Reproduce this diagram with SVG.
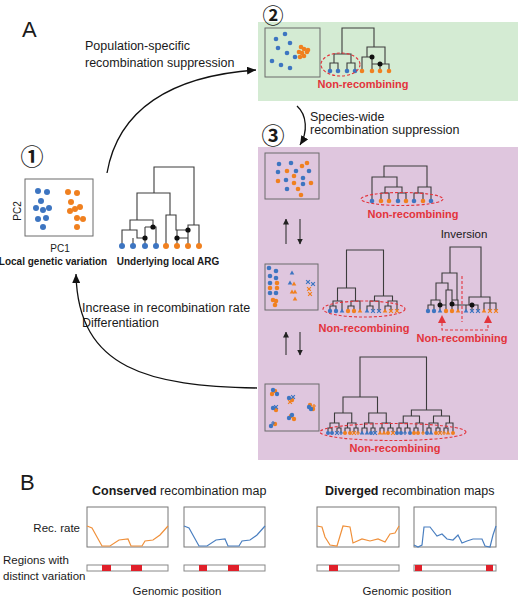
<svg xmlns="http://www.w3.org/2000/svg" width="520" height="600" viewBox="0 0 520 600">
<defs>
<style>
text{font-family:"Liberation Sans",Arial,sans-serif;fill:#1a1a1a}
.lab{font-size:12.5px}
.sm{font-size:11.5px}
.bl{font-weight:bold}
.nr{font-size:11px;font-weight:bold;fill:#e3343c;text-anchor:middle}
.big{font-size:22px}
.circ{font-family:"Noto Sans CJK JP","DejaVu Sans",sans-serif;font-size:23px;font-weight:bold;text-anchor:middle;dominant-baseline:central}
.box{fill:none;stroke:#6b6b6b;stroke-width:1}
.tr{fill:none;stroke:#3c3c3c;stroke-width:1.1}
.b{fill:#3d75c1}
.o{fill:#f0801f}
.k{fill:#111}
.ell{fill:none;stroke:#e3343c;stroke-width:1.1;stroke-dasharray:3 2}
.conn{fill:none;stroke:#111;stroke-width:1.3}
.sa{fill:none;stroke:#333;stroke-width:1.1}
.xb{stroke:#3d75c1;stroke-width:1.2;fill:none}
.xo{stroke:#f0801f;stroke-width:1.2;fill:none}
.plot{fill:none;stroke:#777;stroke-width:1}
.bar{fill:#fff;stroke:#888;stroke-width:1}
.red{fill:#e0202a}
.co{fill:none;stroke:#f0903a;stroke-width:1.2}
.cb{fill:none;stroke:#4a7fc0;stroke-width:1.2}
</style>
<marker id="ah" markerWidth="10" markerHeight="8" refX="9" refY="4" orient="auto" markerUnits="userSpaceOnUse"><path d="M0,0L9,4L0,8Z" fill="#111"/></marker>
<marker id="as" markerWidth="6" markerHeight="6" refX="5.5" refY="3" orient="auto" markerUnits="userSpaceOnUse"><path d="M0,0L6,3L0,6Z" fill="#222"/></marker>
<path id="tri" d="M0,-2.5L2.3,1.6H-2.3Z"/>
<path id="xx" d="M-1.9,-1.9L1.9,1.9M-1.9,1.9L1.9,-1.9"/>
<path id="pl" d="M-2,0H2M0,-2V2"/>
</defs>
<rect width="520" height="600" fill="#fff"/>

<text class="big" x="22" y="37">A</text>

<!-- Panel 1 -->
<g id="stage1">
<text class="circ" x="32" y="155">①</text>
<rect class="box" x="25" y="179" width="68" height="57"/>
<g class="b">
<circle cx="38" cy="191" r="3"/><circle cx="47" cy="192" r="3"/><circle cx="41" cy="201" r="3"/><circle cx="36" cy="208" r="3"/><circle cx="43" cy="210" r="3"/><circle cx="49" cy="208" r="3"/><circle cx="38" cy="219" r="3"/><circle cx="46" cy="218" r="3"/><circle cx="43" cy="227" r="3"/>
</g>
<g class="o">
<circle cx="68" cy="192" r="3"/><circle cx="77" cy="193" r="3"/><circle cx="71" cy="202" r="3"/><circle cx="70" cy="211" r="3"/><circle cx="75" cy="209" r="3"/><circle cx="80" cy="207" r="3"/><circle cx="77" cy="218" r="3"/><circle cx="83" cy="219" r="3"/><circle cx="77" cy="227" r="3"/>
</g>
<text x="17" y="211" font-size="10" text-anchor="middle" dominant-baseline="central" transform="rotate(-90 17 211)">PC2</text>
<text x="60" y="252" font-size="10" text-anchor="middle">PC1</text>
<text class="bl" x="53" y="265" font-size="10" text-anchor="middle">Local genetic variation</text>
<path class="tr" d="M154,193V167H194V225M137,220V193H170V215M130,230V220H153V227M122,246V230H137V238H145M133,246V238M145,227V246M145,227H156V246M166,246V215H176V230H188M177,230V246M177,238H188M188,246V225H199V246"/>
<g class="k"><circle cx="145" cy="238" r="2.6"/><circle cx="153" cy="227" r="2.6"/><circle cx="177" cy="238" r="2.6"/><circle cx="188" cy="230" r="2.6"/></g>
<g class="b"><circle cx="122" cy="246" r="3"/><circle cx="133" cy="246" r="3"/><circle cx="145" cy="246" r="3"/><circle cx="156" cy="246" r="3"/></g>
<g class="o"><circle cx="166" cy="246" r="3"/><circle cx="177" cy="246" r="3"/><circle cx="188" cy="246" r="3"/><circle cx="199" cy="246" r="3"/></g>
<text class="bl" x="168" y="265" font-size="10" text-anchor="middle">Underlying local ARG</text>
</g>

<!-- Panel 2 -->
<g id="stage2">
<rect x="258" y="22" width="260" height="79" fill="#d4ebd3"/>
<text class="circ" x="273" y="14" style="font-size:21px">②</text>
<rect class="box" x="265" y="28" width="55" height="49"/>
<g class="b">
<circle cx="285" cy="34" r="2.3"/><circle cx="276" cy="39" r="2.3"/><circle cx="290" cy="43" r="2.3"/><circle cx="278" cy="48" r="2.3"/><circle cx="287" cy="53" r="2.3"/><circle cx="295" cy="57" r="2.3"/><circle cx="272" cy="61" r="2.3"/><circle cx="281" cy="65" r="2.3"/><circle cx="290" cy="68" r="2.3"/>
</g>
<g class="o">
<circle cx="301" cy="47" r="2.3"/><circle cx="304" cy="49" r="2.3"/><circle cx="307" cy="52" r="2.3"/><circle cx="302" cy="53" r="2.3"/><circle cx="299" cy="52" r="2.3"/><circle cx="304" cy="56" r="2.3"/><circle cx="300" cy="57" r="2.3"/><circle cx="308" cy="50" r="2.3"/>
</g>
<path class="tr" d="M342,54V28H374V47M334,63V54H351V63M330,71V63H338V71M347,71V63H355V71M367,57V47H385V64M362,71V57H372V71M380,71V64H389V71M372,64H380"/>
<g class="k"><circle cx="372" cy="57" r="2.5"/><circle cx="380" cy="64" r="2.5"/></g>
<g class="b"><circle cx="330" cy="71" r="2.3"/><circle cx="338" cy="71" r="2.3"/><circle cx="347" cy="71" r="2.3"/><circle cx="355" cy="71" r="2.3"/></g>
<g class="o"><circle cx="362" cy="71" r="2.3"/><circle cx="372" cy="71" r="2.3"/><circle cx="380" cy="71" r="2.3"/><circle cx="389" cy="71" r="2.3"/></g>
<ellipse class="ell" cx="340.5" cy="64.5" rx="19.5" ry="11.5"/>
<text class="nr" x="363" y="88">Non-recombining</text>
</g>

<!-- Panel 3 -->
<g id="stage3">
<rect x="258" y="147" width="260" height="313" fill="#dfc6de"/>
<text class="circ" x="273" y="134">③</text>
</g>

<g id="stage3-mixed">
<rect class="box" x="265" y="153" width="54" height="46"/>
<g class="b"><circle cx="279" cy="164" r="2.3"/><circle cx="291" cy="163" r="2.3"/><circle cx="278" cy="172" r="2.3"/><circle cx="296" cy="171" r="2.3"/><circle cx="309" cy="171" r="2.3"/><circle cx="286" cy="180" r="2.3"/><circle cx="303" cy="178" r="2.3"/><circle cx="303" cy="184" r="2.3"/><circle cx="287" cy="189" r="2.3"/></g>
<g class="o"><circle cx="302" cy="166" r="2.3"/><circle cx="307" cy="163" r="2.3"/><circle cx="287" cy="171" r="2.3"/><circle cx="278" cy="181" r="2.3"/><circle cx="294" cy="176" r="2.3"/><circle cx="294" cy="183" r="2.3"/><circle cx="311" cy="183" r="2.3"/><circle cx="298" cy="189" r="2.3"/><circle cx="301" cy="195" r="2.3"/></g>
<path class="tr" d="M384,177V166H427V187M372,201V177H397V187M385,193V187H402V193M381,201V193H389V201M398,201V193H406V201M418,193V187H431V201M414,201V193H423V201"/>
<g class="b"><circle cx="372" cy="201" r="2.3"/><circle cx="398" cy="201" r="2.3"/><circle cx="414" cy="201" r="2.3"/><circle cx="431" cy="201" r="2.3"/></g>
<g class="o"><circle cx="381" cy="201" r="2.3"/><circle cx="389" cy="201" r="2.3"/><circle cx="406" cy="201" r="2.3"/><circle cx="423" cy="201" r="2.3"/></g>
<ellipse class="ell" cx="402" cy="199" rx="41" ry="6.5"/>
<text class="nr" x="413" y="218">Non-recombining</text>
</g>

<g id="stage3-structured">
<rect class="box" x="265" y="264" width="53" height="46"/>
<g class="b"><circle cx="269" cy="268" r="2.3"/><circle cx="276" cy="271" r="2.3"/><circle cx="270" cy="276" r="2.3"/><circle cx="276" cy="278" r="2.3"/><circle cx="270" cy="283" r="2.3"/><circle cx="276" cy="293" r="2.3"/><circle cx="270" cy="293" r="2.3"/></g>
<g class="o"><circle cx="277" cy="283" r="2.3"/><circle cx="270" cy="288" r="2.3"/><circle cx="277" cy="288" r="2.3"/><circle cx="273" cy="300" r="2.3"/><circle cx="275" cy="305" r="2.3"/><circle cx="276" cy="301" r="2.3"/></g>
<use href="#tri" x="292" y="273" class="b"/><use href="#tri" x="290" y="283" class="b"/><use href="#tri" x="294" y="284" class="o"/><use href="#tri" x="292" y="292" class="o"/><use href="#tri" x="295" y="292" class="o"/><use href="#tri" x="295" y="299" class="o"/>
<use href="#xx" x="308" y="282" class="xb"/><use href="#xx" x="313" y="284" class="xb"/><use href="#xx" x="309" y="289" class="xo"/><use href="#xx" x="310" y="294" class="xo"/>
<path class="tr" d="M346.5,288V250H383.5V296M337.5,301V288H355.5V301M333,306V301H342V311M330,311V306H336V311M351,306V301H360V311M348,311V306H354V311M374.5,301V296H392.5V301M370,306V301H379V311M367,311V306H373V311M388,306V301H397V311M385,311V306H391V311"/>
<g class="b"><circle cx="330" cy="311" r="2.2"/><circle cx="336" cy="311" r="2.2"/></g>
<use href="#tri" x="342" y="311" class="b"/>
<g class="o"><circle cx="348" cy="311" r="2.2"/><circle cx="354" cy="311" r="2.2"/></g>
<use href="#tri" x="360" y="311" class="o"/><use href="#tri" x="367" y="311" class="b"/>
<use href="#xx" x="373" y="311" class="xb"/><use href="#xx" x="379" y="311" class="xb"/>
<use href="#tri" x="385" y="311" class="o"/>
<use href="#xx" x="391" y="311" class="xo"/><use href="#xx" x="397" y="311" class="xo"/>
<ellipse class="ell" cx="364" cy="309" rx="41" ry="8"/>
<text class="nr" x="364" y="332">Non-recombining</text>
</g>

<g id="stage3-inversion">
<text x="464" y="238" font-size="11.5" text-anchor="middle">Inversion</text>
<path class="tr" d="M450,273V247H481V297M442,283V273H457V300M436,300V283H448V290M431,305V300H440V311M428,311V305H434V311M446,311V290H452V311M452,300H458V311M469,305V297H490V303M466,311V305H478V311M472,305V311M484,311V303H496V311M490,303V311M440,305H446M452,305H466"/>
<g class="k"><circle cx="440" cy="305" r="2.5"/><circle cx="452" cy="304" r="2.5"/><circle cx="472" cy="305" r="2.5"/></g>
<g class="b"><circle cx="428" cy="311" r="2.2"/><circle cx="434" cy="311" r="2.2"/></g>
<use href="#tri" x="440" y="311" class="b"/>
<g class="o"><circle cx="446" cy="311" r="2.2"/><circle cx="452" cy="311" r="2.2"/></g>
<use href="#tri" x="458" y="311" class="o"/><use href="#tri" x="466" y="311" class="b"/>
<use href="#xx" x="472" y="311" class="xb"/><use href="#xx" x="478" y="311" class="xb"/>
<use href="#tri" x="484" y="311" class="o"/>
<use href="#xx" x="490" y="311" class="xo"/><use href="#xx" x="496" y="311" class="xo"/>
<path d="M462,276V322" fill="none" stroke="#e3343c" stroke-width="1.1" stroke-dasharray="3 2"/>
<path d="M442,323V330H488V323" fill="none" stroke="#e3343c" stroke-width="1.1" stroke-dasharray="3 2"/>
<path d="M442,315L438,323H446ZM488,315L484,323H492Z" fill="#e3343c"/>
<text class="nr" x="462" y="342">Non-recombining</text>
</g>

<g id="stage3-differentiated">
<rect class="box" x="265" y="384" width="54" height="47"/>
<g class="o"><circle cx="275" cy="391" r="2.2"/><circle cx="272" cy="394" r="2.2"/><circle cx="292" cy="400" r="2.2"/><circle cx="310" cy="405" r="2.2"/><circle cx="313" cy="409" r="2.2"/><circle cx="276" cy="410" r="2.2"/><circle cx="291" cy="416" r="2.2"/><circle cx="294" cy="419" r="2.2"/><circle cx="275" cy="424" r="2.2"/></g>
<g class="b"><circle cx="273" cy="390" r="2.2"/><circle cx="277" cy="394" r="2.2"/><circle cx="289" cy="398" r="2.2"/><circle cx="311" cy="409" r="2.2"/><circle cx="309" cy="407" r="2.2"/><circle cx="273" cy="408" r="2.2"/><circle cx="289" cy="418" r="2.2"/><circle cx="292" cy="415" r="2.2"/><circle cx="271" cy="426" r="2.2"/></g>
<use href="#xx" x="293" y="397" class="xb"/><use href="#xx" x="276" y="407" class="xb"/><use href="#pl" x="273" y="423" class="xb"/><use href="#xx" x="290" y="402" class="xo"/><use href="#pl" x="314" y="406" class="xo"/>
<path class="tr" d="M360,397V357H426.5V410M343,413V397H377.5V413M334.5,423V413H351.75V423M368.75,423V413H386.25V423M330,428V423H339V428M328,433V428H332V433M337,433V428H341V433M347.5,428V423H356V428M345,433V428H350V433M354,433V428H358V433M364.5,428V423H373V428M362,433V428H367V433M371,433V428H375V433M382,428V423H390.5V428M380,433V428H384V433M388,433V428H393V433M411.4,416V410H441.5V416M403.25,423V416H419.5V423M399,428V423H407.5V428M397,433V428H401V433M405,433V428H410V433M414,433V428H418V433M416,428V423H423V433M433.5,423V416H449.5V423M429,428V423H438V428M427,433V428H431V433M436,433V428H440V433M444,433V428H448V433M446,428V423H453V433"/>
<g class="b"><circle cx="328" cy="433" r="2"/><circle cx="332" cy="433" r="2"/><circle cx="371" cy="433" r="2"/><circle cx="397" cy="433" r="2"/><circle cx="401" cy="433" r="2"/><circle cx="410" cy="433" r="2"/><circle cx="427" cy="433" r="2"/></g>
<g class="o"><circle cx="345" cy="433" r="2"/><circle cx="350" cy="433" r="2"/><circle cx="388" cy="433" r="2"/><circle cx="414" cy="433" r="2"/><circle cx="418" cy="433" r="2"/><circle cx="436" cy="433" r="2"/><circle cx="453" cy="433" r="2"/></g>
<use href="#xx" x="337" y="433" class="xb"/><use href="#pl" x="341" y="433" class="xb"/>
<use href="#xx" x="354" y="433" class="xo"/><use href="#pl" x="358" y="433" class="xo"/>
<use href="#tri" x="362" y="433" class="b"/><use href="#tri" x="367" y="433" class="b"/><use href="#xx" x="375" y="433" class="xb"/>
<use href="#tri" x="380" y="433" class="o"/><use href="#tri" x="384" y="433" class="o"/><use href="#xx" x="393" y="433" class="xo"/>
<use href="#pl" x="405" y="433" class="xb"/><use href="#pl" x="423" y="433" class="xo"/>
<use href="#tri" x="431" y="433" class="b"/><use href="#xx" x="440" y="433" class="xo"/><use href="#pl" x="444" y="433" class="xo"/><use href="#tri" x="448" y="433" class="o"/>
<ellipse class="ell" cx="393" cy="432" rx="73" ry="8.5"/>
<text class="nr" x="395" y="452">Non-recombining</text>
</g>

<!-- Connectors -->
<g id="connectors">
<path class="conn" d="M107,173C118,110 170,76 256,70" marker-end="url(#ah)"/>
<path class="conn" d="M297,106C307,115 308,132 300,145" marker-end="url(#ah)"/>
<path class="conn" d="M257,388C150,386 78,370 76,274" marker-end="url(#ah)"/>
<path class="sa" d="M286,244V219" marker-end="url(#as)"/>
<path class="sa" d="M300,219V244" marker-end="url(#as)"/>
<path class="sa" d="M286,355V332" marker-end="url(#as)"/>
<path class="sa" d="M300,332V355" marker-end="url(#as)"/>
</g>
<g id="connector-labels">
<text class="lab" x="85" y="50">Population-specific</text>
<text class="lab" x="85" y="67">recombination suppression</text>
<text class="lab" x="310" y="121">Species-wide</text>
<text class="lab" x="310" y="134">recombination suppression</text>
<text class="lab" x="82" y="312">Increase in recombination rate</text>
<text class="lab" x="82" y="327">Differentiation</text>
</g>

<!-- Panel B -->
<g id="panelB">
<text class="big" x="20" y="490">B</text>
<text x="92" y="495" font-size="12.5"><tspan class="bl">Conserved</tspan> recombination map</text>
<text x="325" y="495" font-size="12.5"><tspan class="bl">Diverged</tspan> recombination maps</text>
<text class="sm" x="80" y="532" text-anchor="end">Rec. rate</text>
<text class="sm" x="3" y="564">Regions with</text>
<text class="sm" x="3" y="580">distinct variation</text>
<rect class="plot" x="87" y="507" width="81" height="40"/>
<rect class="plot" x="184" y="507" width="81" height="40"/>
<rect class="plot" x="317" y="507" width="82" height="40"/>
<rect class="plot" x="414" y="507" width="82" height="40"/>
<polyline class="co" points="87,526 92,528 97,537 102,546 110,546 119,540 128,539 131,546 142,546 145,541 153,540 160,535 168,526"/>
<polyline class="cb" points="184,526 189,528 194,537 199,546 207,546 216,540 225,539 228,546 239,546 242,541 250,540 257,535 265,526"/>
<polyline class="co" points="317,526 322,527 325,537 330,545 337,546 343,526 350,527 353,543 362,539 370,541 378,539 385,542 390,534 395,533 399,526"/>
<polyline class="cb" points="414,545 418,547 422,545 424,527 430,527 437,536 442,534 447,539 453,540 458,535 462,543 467,541 473,539 482,539 485,546 490,547 493,535 496,526"/>
<rect class="bar" x="87" y="565" width="81" height="6"/>
<rect class="bar" x="184" y="565" width="81" height="6"/>
<rect class="bar" x="317" y="565" width="82" height="6"/>
<rect class="bar" x="414" y="565" width="82" height="6"/>
<rect class="red" x="102" y="565" width="9" height="6"/>
<rect class="red" x="131" y="565" width="11" height="6"/>
<rect class="red" x="199" y="565" width="8" height="6"/>
<rect class="red" x="228" y="565" width="11" height="6"/>
<rect class="red" x="329" y="565" width="9" height="6"/>
<rect class="red" x="415" y="565" width="7" height="6"/>
<rect class="red" x="486" y="565" width="7" height="6"/>
<text class="sm" x="177" y="595" text-anchor="middle">Genomic position</text>
<text class="sm" x="407" y="595" text-anchor="middle">Genomic position</text>
</g>
</svg>
